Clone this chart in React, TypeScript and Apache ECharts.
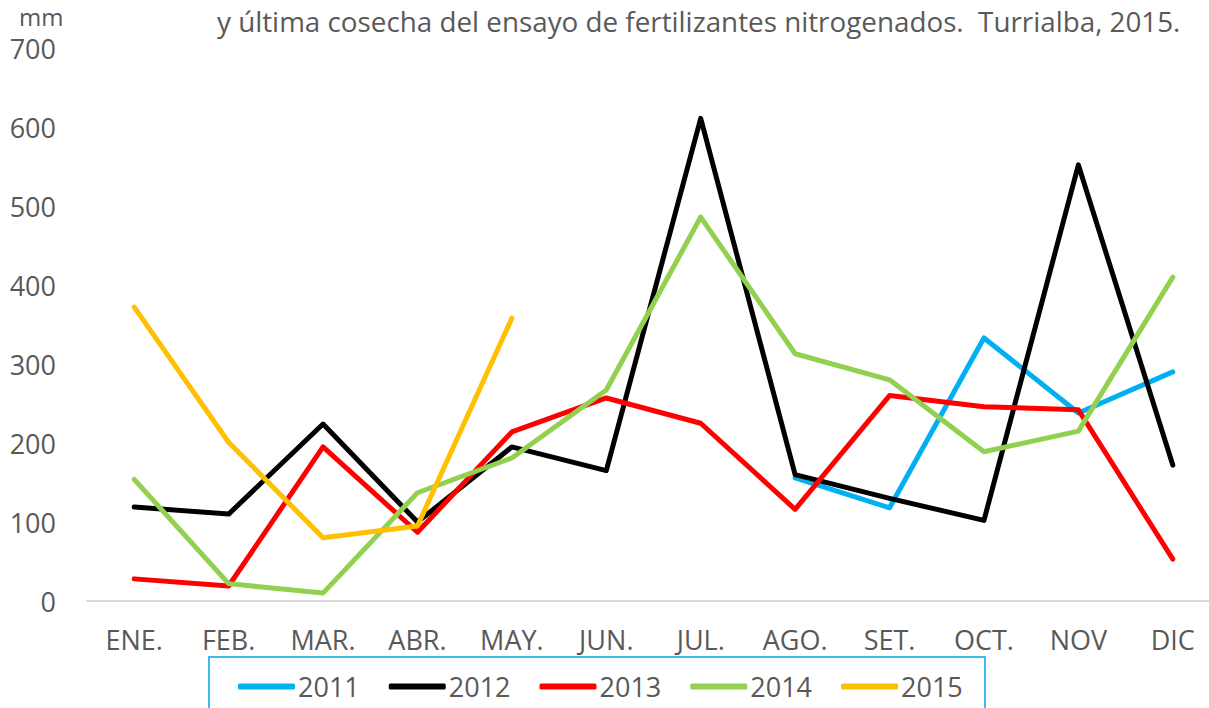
import React, { useEffect, useRef } from "react";
import * as echarts from "echarts";

const months = ["ENE.", "FEB.", "MAR.", "ABR.", "MAY.", "JUN.", "JUL.", "AGO.", "SET.", "OCT.", "NOV", "DIC"];
const s2011 = [null, null, null, null, null, null, null, 156, 118, 333, 238, 290];
const s2012 = [119, 110, 224, 100, 195, 165, 611, 160, 130, 102, 552, 172];
const s2013 = [28, 19, 195, 87, 214, 257, 225, 116, 260, 246, 242, 53];
const s2014 = [154, 22, 10, 137, 181, 267, 486, 313, 280, 189, 215, 410];
const s2015 = [372, 201, 80, 95, 358, null, null, null, null, null, null, null];
const yTicks = [0, 100, 200, 300, 400, 500, 600, 700];
const seriesNames = ["2011", "2012", "2013", "2014", "2015"];
const seriesColors = ["#00B0F0", "#000000", "#FF0000", "#92D050", "#FFC000"];
const titleText = "y última cosecha del ensayo de fertilizantes nitrogenados.  Turrialba, 2015.";
const unitText = "mm";

export default function App() {
  const ref = useRef<HTMLDivElement>(null);
  useEffect(() => {
    if (!ref.current) return;
    const chart = echarts.init(ref.current, null, { renderer: "svg" });
    const data = [s2011, s2012, s2013, s2014, s2015];
    const font = "'Open Sans', sans-serif";
    chart.setOption({
      animation: false,
      backgroundColor: "#ffffff",
      textStyle: { fontFamily: font },
      title: {
        text: titleText,
        left: 212,
        top: 2,
        textStyle: { fontFamily: font, fontSize: 27.8, fontWeight: "normal", color: "#595959" },
      },
      graphic: [
        {
          type: "text",
          left: 19,
          top: 4,
          style: { text: unitText, font: `24px ${font}`, fill: "#595959" },
        },
        {
          type: "rect",
          shape: { x: 209, y: 657, width: 776, height: 70 },
          style: { fill: "none", stroke: "#3DBBEA", lineWidth: 2 },
        },
      ],
      legend: {
        left: 233,
        top: 668,
        itemWidth: 57,
        itemHeight: 6,
        itemGap: 29,
        icon: "roundRect",
        textStyle: { fontFamily: font, fontSize: 27, color: "#595959", padding: [0, 0, 0, -2] },
        data: seriesNames,
      },
      grid: {
        left: 87,
        width: 1133,
        top: 48,
        height: 553,
        containLabel: false,
        outerBoundsMode: "none",
      },
      xAxis: {
        type: "category",
        data: months,
        boundaryGap: true,
        axisLine: { lineStyle: { color: "#D9D9D9", width: 2 } },
        axisTick: { show: false },
        axisLabel: { color: "#595959", fontSize: 27, fontFamily: font, margin: 25, interval: 0 },
      },
      yAxis: {
        type: "value",
        min: yTicks[0],
        max: yTicks[yTicks.length - 1],
        interval: 100,
        splitLine: { show: false },
        axisLine: { show: false },
        axisTick: { show: false },
        axisLabel: { color: "#595959", fontSize: 27, fontFamily: font, margin: 31 },
      },
      series: seriesNames.map((name, i) => ({
        name,
        type: "line",
        data: data[i],
        symbol: "none",
        connectNulls: false,
        lineStyle: { color: seriesColors[i], width: 5, cap: "round", join: "round" },
        itemStyle: { color: seriesColors[i] },
        z: 2 + i,
      })),
    });
    return () => chart.dispose();
  }, []);
  return (
    <div
      ref={ref}
      style={{ position: "fixed", left: 0, top: 0, width: 1209, height: 708 }}
    />
  );
}
